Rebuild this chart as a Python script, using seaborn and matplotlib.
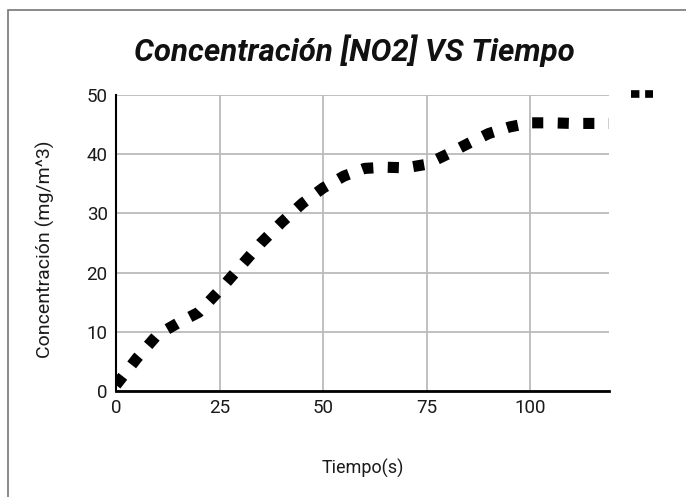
import matplotlib
matplotlib.use("Agg")
import matplotlib.pyplot as plt
import seaborn as sns
import pandas as pd
from matplotlib.lines import Line2D
from matplotlib.patches import Rectangle

tiempo = [0, 5, 10, 15, 20, 25, 30, 35, 40, 45, 50, 55, 60, 65, 70, 75, 80, 85, 90, 95, 100, 105, 110, 115, 120]
concentracion = [1.0, 5.5, 9.5, 11.5, 13.3, 17.0, 21.0, 25.0, 28.5, 31.7, 34.3, 36.3, 37.6, 37.8, 37.7, 38.3,
                 40.0, 41.8, 43.5, 44.6, 45.3, 45.3, 45.2, 45.2, 45.2]
x_ticks = [0, 25, 50, 75, 100]
y_ticks = [0, 10, 20, 30, 40, 50]

df = pd.DataFrame({"Tiempo": tiempo, "Concentracion": concentracion})

sns.set_theme(style="white")
plt.rcParams['font.family'] = ['Roboto', 'DejaVu Sans']

fig = plt.figure(figsize=(6.86, 4.97), dpi=100)
ax = fig.add_axes([116/686, 1-391/497, (609-116)/686, (391-95)/497])

sns.lineplot(data=df, x="Tiempo", y="Concentracion", color="black", linewidth=8, ax=ax)
ln = ax.lines[0]
ln.set_dashes([1, 1.3])
ln.set_dash_capstyle('butt')

ax.set_xlim(0, 119)
ax.set_ylim(0, 50)
ax.set_xticks(x_ticks)
ax.set_yticks(y_ticks)
ax.tick_params(axis='both', labelsize=13.5, length=0, pad=6, colors='#1a1a1a')
ax.grid(True, color='#bbbbbb', linewidth=1.3)
ax.set_axisbelow(True)
for s in ['top', 'right']:
    ax.spines[s].set_visible(False)
ax.spines['left'].set_color('black')
ax.spines['left'].set_linewidth(1.5)
ax.spines['bottom'].set_color('black')
ax.spines['bottom'].set_linewidth(2)

ax.set_xlabel("Tiempo(s)", fontsize=13, color='#1a1a1a', labelpad=30)
ax.set_ylabel("Concentración (mg/m^3)", fontsize=14, color='#1a1a1a')
ax.yaxis.set_label_coords(-0.123, 0.48)

fig.text(0.517, 0.898, "Concentración [NO2] VS Tiempo", ha='center', va='center',
         fontsize=22.5, fontweight='bold', fontstyle='italic', color='#111111')

handle = Line2D([0], [0], color='black', linewidth=5.5, dashes=[1.1, 0.75], dash_capstyle='butt')
fig.legend(handles=[handle], labels=[''], loc='center', bbox_to_anchor=(642/686, 1-95/497),
           frameon=False, handlelength=1.5, handletextpad=0, borderpad=0)

fig.patches.append(Rectangle((8/686, -0.02), 1.1, 1-10/497+0.02, transform=fig.transFigure,
                             fill=False, edgecolor='#777777', linewidth=1.2))

fig.savefig("out.png", dpi=100)
